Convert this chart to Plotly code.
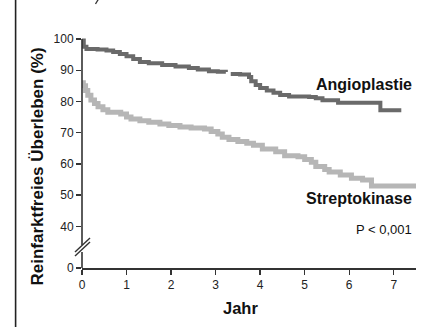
import plotly.graph_objects as go

# ---- data ----
angio_t = [0, 0.04, 0.1, 0.35, 0.55, 0.7, 0.85, 1.0, 1.15, 1.3, 1.5, 1.8, 2.1, 2.4, 2.6, 2.85, 3.05, 3.23,
           None,
           3.34, 3.55, 3.75, 3.8, 3.9, 4.0, 4.15, 4.3, 4.45, 4.65, 5.1, 5.25, 5.4, 5.75, 6.7, 7.17]
angio_s = [99.5, 97.5, 96.8, 96.6, 96.3, 95.8, 95.2, 94.5, 93.6, 92.6, 92.2, 91.7, 91.2, 90.7, 90.2, 89.7, 89.5, 89.4,
           None,
           88.8, 88.6, 87.8, 86.5, 85.3, 84.3, 83.5, 82.8, 82.1, 81.6, 81.4, 81.0, 80.4, 79.6, 77.2, 77.2]

strep_t = [0, 0.03, 0.08, 0.13, 0.2, 0.28, 0.36, 0.47, 0.58, 0.87, 1.0, 1.1, 1.3, 1.5, 1.75, 1.95, 2.2, 2.45,
           2.75, 2.9, 3.05, 3.15, 3.3, 3.5, 3.7, 3.85, 4.05, 4.35, 4.55, 4.85, 5.0, 5.15, 5.25, 5.45, 5.55,
           5.8, 6.05, 6.3, 6.5, 7.5]
strep_s = [86.0, 85.0, 83.5, 82.0, 80.5, 79.3, 78.3, 77.3, 76.5, 76.0, 75.0, 74.4, 73.8, 73.3, 72.8, 72.3, 71.8, 71.5,
           71.2, 70.4, 69.6, 68.5, 67.8, 67.2, 66.6, 66.0, 64.8, 63.9, 62.6, 62.3, 61.4, 60.5, 59.2, 58.2, 57.4,
           56.4, 55.4, 54.8, 52.9, 52.9]

x_ticks = [0, 1, 2, 3, 4, 5, 6, 7]
y_break_zero = 26.65          # where the "0" of the broken axis sits
y_tickvals = [y_break_zero, 40, 50, 60, 70, 80, 90, 100]
y_ticktext = ["0", "40", "50", "60", "70", "80", "90", "100"]

FONT = "Liberation Sans, Arial, Helvetica, sans-serif"
AX = "#333333"

fig = go.Figure()
fig.add_trace(go.Scatter(x=strep_t, y=strep_s, mode="lines", line=dict(color="#b6b6b6", width=5, shape="hv"),
                         connectgaps=False, hoverinfo="skip", showlegend=False))
fig.add_trace(go.Scatter(x=angio_t, y=angio_s, mode="lines", line=dict(color="#6a6a6a", width=4, shape="hv"),
                         connectgaps=False, hoverinfo="skip", showlegend=False))

# plot area: left 82px, top 35, bottom 268 (height 233), width 334
def py(px):
    return (268 - px) / 233.0

def pxx(px):
    return (px - 82) / 334.0

shapes = [
    # broken y axis line
    dict(type="line", xref="paper", yref="paper", x0=0, x1=0, y0=py(39), y1=py(245), line=dict(color=AX, width=1.6)),
    dict(type="line", xref="paper", yref="paper", x0=0, x1=0, y0=py(252), y1=py(268), line=dict(color=AX, width=1.6)),
    dict(type="line", xref="paper", yref="paper", x0=pxx(75), x1=pxx(90), y0=py(256), y1=py(242), line=dict(color=AX, width=1.4)),
    dict(type="line", xref="paper", yref="paper", x0=pxx(75), x1=pxx(90), y0=py(252), y1=py(238), line=dict(color=AX, width=1.4)),
    # left frame line
    dict(type="line", xref="paper", yref="paper", x0=pxx(15.6), x1=pxx(15.6), y0=py(330), y1=py(-3), line=dict(color="#222222", width=1.6)),
    # cropped fragment at the top edge
    dict(type="line", xref="paper", yref="paper", x0=pxx(98.5), x1=pxx(95.5), y0=py(-1), y1=py(4), line=dict(color="#333333", width=1.3)),
]

annotations = [
    dict(text="<b>Angioplastie</b>", x=7.46, y=85.3, xref="x", yref="y", xanchor="right", yanchor="middle",
         showarrow=False, font=dict(family=FONT, size=16, color="#111111")),
    dict(text="<b>Streptokinase</b>", x=7.46, y=48.9, xref="x", yref="y", xanchor="right", yanchor="middle",
         showarrow=False, font=dict(family=FONT, size=16, color="#111111")),
    dict(text="P &lt; 0,001", x=7.46, y=39.1, xref="x", yref="y", xanchor="right", yanchor="middle",
         showarrow=False, font=dict(family=FONT, size=13, color="#111111")),
    dict(text="<b>Jahr</b>", x=pxx(240.3), y=py(308), xref="paper", yref="paper", xanchor="center", yanchor="middle",
         showarrow=False, font=dict(family=FONT, size=16.5, color="#111111")),
    dict(text="<b>Reinfarktfreies Überleben (%)</b>", x=pxx(37), y=py(166.5), xref="paper", yref="paper",
         xanchor="center", yanchor="middle", textangle=-90,
         showarrow=False, font=dict(family=FONT, size=17, color="#111111")),
]

fig.update_layout(
    width=424, height=327,
    margin=dict(l=82, r=8, t=35, b=59, pad=0),
    paper_bgcolor="white", plot_bgcolor="white",
    font=dict(family=FONT, size=12, color="#222222"),
    hovermode=False,
    xaxis=dict(range=[0, 7.5], tickvals=x_ticks, ticks="outside", ticklen=5, tickwidth=1.3, tickcolor=AX,
               showline=True, linecolor=AX, linewidth=1.6, showgrid=False, zeroline=False, fixedrange=True,
               tickfont=dict(family=FONT, size=12, color="#222222")),
    yaxis=dict(range=[y_break_zero, 101.28], tickvals=y_tickvals, ticktext=y_ticktext, ticks="outside",
               ticklen=5, tickwidth=1.3, tickcolor=AX, showline=False, showgrid=False, zeroline=False, fixedrange=True,
               tickfont=dict(family=FONT, size=12, color="#222222")),
    shapes=shapes, annotations=annotations, showlegend=False,
)

fig.write_html("out.html", config={"staticPlot": True, "displayModeBar": False},
               post_script="document.body.style.margin='0';document.body.style.padding='0';")
